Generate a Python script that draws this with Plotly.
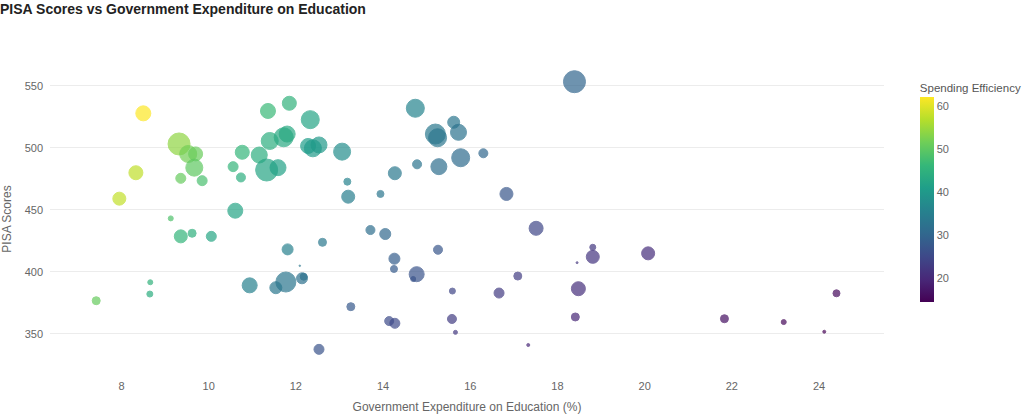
import plotly.graph_objects as go

# Government expenditure on education (% of total govt expenditure)
expenditure = [
    8.50, 9.32, 9.53, 9.70, 9.67, 8.33, 9.36, 9.85, 7.95, 10.77,
    10.56, 10.74, 10.61, 9.13, 11.36, 11.85, 12.33, 11.40, 11.72, 11.80,
    12.28, 12.53, 12.39, 11.16, 11.33, 11.59, 13.06, 13.18, 13.20, 13.94,
    14.27, 14.74, 15.62, 15.73, 15.20, 15.25, 15.78, 16.30, 15.28, 14.78,
    16.83, 18.39, 17.51, 18.81, 18.81, 9.36, 9.62, 10.06, 11.81, 12.61,
    13.71, 12.09, 8.66, 8.65, 7.42, 10.94, 11.54, 11.77, 12.14, 12.18,
    13.26, 12.53, 14.05, 15.26, 18.45, 14.26, 14.25, 14.77, 14.69, 17.09,
    15.59, 16.66, 18.48, 14.14, 14.27, 15.58, 18.41, 15.66, 17.33, 20.08,
    21.83, 23.19, 24.12, 24.40,
]

# PISA scores
pisa = [
    527.7, 503.0, 494.9, 495.0, 483.9, 479.8, 475.3, 473.4, 458.9, 496.3,
    484.7, 476.0, 449.2, 443.0, 529.6, 535.8, 522.6, 505.4, 508.4, 511.0,
    501.4, 502.2, 499.5, 494.1, 482.0, 483.9, 496.8, 472.6, 460.5, 462.7,
    479.4, 531.8, 520.5, 512.4, 511.0, 508.0, 491.9, 495.5, 484.7, 486.6,
    462.7, 553.2, 435.0, 419.7, 412.0, 428.5, 431.0, 428.5, 418.0, 423.7,
    433.6, 404.8, 391.5, 382.0, 376.6, 389.0, 387.1, 391.7, 394.7, 396.0,
    371.8, 337.4, 430.4, 417.7, 407.3, 410.5, 402.2, 398.0, 394.1, 396.5,
    384.4, 382.8, 386.3, 360.2, 358.4, 361.9, 363.5, 351.1, 340.9, 414.8,
    362.1, 359.4, 351.6, 382.6,
]

# Bubble size metric (relative, arbitrary units)
bubble_metric = [
    15, 22, 17, 14, 17, 14, 10, 10, 13, 14,
    10, 9, 15, 5, 15, 14, 18, 17, 19, 16,
    15, 16, 17, 16, 22, 16, 17, 7, 13, 7,
    13, 18, 12, 16, 20, 18, 18, 9, 16, 9,
    13, 22, 14, 6, 13, 13, 8, 10, 11, 8,
    9, 1.5, 5, 6, 8, 15, 12, 20, 11, 7,
    8, 10, 11, 9, 2, 11, 7, 15, 5, 8,
    6, 10, 14, 9, 10, 9, 8, 4, 3, 13,
    8, 5, 3, 7,
]

efficiency = [p / e for p, e in zip(pisa, expenditure)]
cmin, cmax = min(efficiency), max(efficiency)

fig = go.Figure(
    go.Scatter(
        x=expenditure,
        y=pisa,
        mode="markers",
        marker=dict(
            size=bubble_metric,
            sizemode="diameter",
            sizeref=1,
            color=efficiency,
            colorscale="Viridis",
            cmin=cmin,
            cmax=cmax,
            opacity=0.7,
            line=dict(width=1, color=efficiency, colorscale="Viridis", cmin=cmin, cmax=cmax),
            colorbar=dict(
                title=dict(text="Spending Efficiency", side="top",
                           font=dict(size=11.5, color="#555555")),
                thickness=14,
                lenmode="pixels",
                len=222,
                x=1.043,
                xanchor="left",
                xpad=0,
                y=0.937,
                yanchor="top",
                ypad=0,
                outlinewidth=0,
                tickvals=[20, 30, 40, 50, 60],
                tickfont=dict(size=11, color="#666666"),
            ),
        ),
        showlegend=False,
    )
)

fig.update_layout(
    template="plotly_white",
    width=1024,
    height=414,
    margin=dict(l=50, r=140, t=60, b=36, autoexpand=False),
    font=dict(family="Arial, Liberation Sans, sans-serif", size=12, color="#666666"),
    title=dict(
        text="<b>PISA Scores vs Government Expenditure on Education</b>",
        x=0.0, xref="container", xanchor="left",
        y=0.99, yref="container", yanchor="top",
        font=dict(size=14, color="#222222"),
    ),
    xaxis=dict(
        title=dict(text="Government Expenditure on Education (%)", standoff=11,
                   font=dict(size=12, color="#666666")),
        range=[6.36, 25.49],
        tickvals=[8, 10, 12, 14, 16, 18, 20, 22, 24],
        showgrid=False,
        zeroline=False,
        automargin=False,
        tickfont=dict(size=11, color="#666666"),
    ),
    yaxis=dict(
        title=dict(text="PISA Scores", standoff=10, font=dict(size=12, color="#666666")),
        range=[314.3, 570.7],
        tickvals=[350, 400, 450, 500, 550],
        gridcolor="#ececec",
        zeroline=False,
        automargin=False,
        ticklabelstandoff=6,
        tickfont=dict(size=11, color="#666666"),
    ),
    plot_bgcolor="white",
    paper_bgcolor="white",
)

fig.write_html("out.html", config={"displayModeBar": False},
               post_script="document.body.style.margin='0';")
